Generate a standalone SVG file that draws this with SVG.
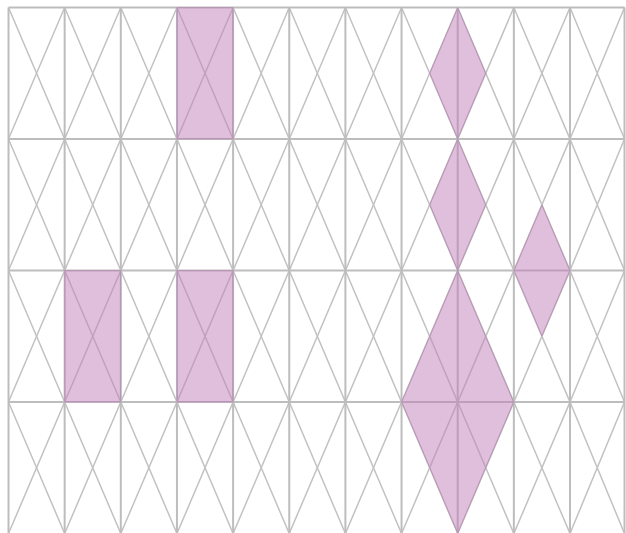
<svg xmlns="http://www.w3.org/2000/svg" width="626" height="533" viewBox="0 0 626 533">
  <style>
    .diag { fill: none; stroke: #c2c2c2; stroke-width: 1.5; }
    .grid { fill: none; stroke: #bdbdbd; stroke-width: 2; }
    .shade { fill: #c080b8; fill-opacity: 0.5; stroke: #b070a8; stroke-opacity: 0.35; stroke-width: 1; }
  </style>
  <defs>
    <clipPath id="gridClip">
      <rect x="8.5" y="7.5" width="561.5" height="526"/>
    </clipPath>
  </defs>
  <rect x="0" y="0" width="626" height="533" fill="#ffffff"/>
  <g id="diagonals">
    <g clip-path="url(#gridClip)">
      <path class="diag" d="M-159.95 7.5L64.65 533.5M-103.8 7.5L120.8 533.5M-47.65 7.5L176.95 533.5M8.5 7.5L233.1 533.5M64.65 7.5L289.25 533.5M120.8 7.5L345.4 533.5M176.95 7.5L401.55 533.5M233.1 7.5L457.7 533.5M289.25 7.5L513.85 533.5M345.4 7.5L570 533.5M401.55 7.5L626.15 533.5M457.7 7.5L682.3 533.5M513.85 7.5L738.45 533.5"/>
      <path class="diag" d="M64.65 7.5L-159.95 533.5M120.8 7.5L-103.8 533.5M176.95 7.5L-47.65 533.5M233.1 7.5L8.5 533.5M289.25 7.5L64.65 533.5M345.4 7.5L120.8 533.5M401.55 7.5L176.95 533.5M457.7 7.5L233.1 533.5M513.85 7.5L289.25 533.5M570 7.5L345.4 533.5M626.15 7.5L401.55 533.5M682.3 7.5L457.7 533.5M738.45 7.5L513.85 533.5"/>
    </g>
    <path class="diag" d="M570 7.5L624.5 139M624.5 7.5L570 139M570 139L624.5 270.5M624.5 139L570 270.5M570 270.5L624.5 402M624.5 270.5L570 402M570 402L624.5 533.5M624.5 402L570 533.5"/>
  </g>
  <g id="grid">
    <path class="grid" d="M8.5 7.5V533.5M64.65 7.5V533.5M120.8 7.5V533.5M176.95 7.5V533.5M233.1 7.5V533.5M289.25 7.5V533.5M345.4 7.5V533.5M401.55 7.5V533.5M457.7 7.5V533.5M513.85 7.5V533.5M570 7.5V533.5M624.5 7.5V533.5"/>
    <path class="grid" d="M8.5 7.5H624.5M8.5 139H624.5M8.5 270.5H624.5M8.5 402H624.5"/>
  </g>
  <g id="shaded">
    <rect id="rect-a" class="shade" x="176.95" y="7.5" width="56.15" height="131.5"/>
    <rect id="rect-b" class="shade" x="64.65" y="270.5" width="56.15" height="131.5"/>
    <rect id="rect-c" class="shade" x="176.95" y="270.5" width="56.15" height="131.5"/>
    <polygon id="diamond-a" class="shade" points="457.7,7.5 485.8,73.25 457.7,139 429.6,73.25"/>
    <polygon id="diamond-b" class="shade" points="457.7,139 485.8,204.75 457.7,270.5 429.6,204.75"/>
    <polygon id="diamond-c" class="shade" points="541.9,204.75 570,270.5 541.9,336.25 513.85,270.5"/>
    <polygon id="diamond-big" class="shade" points="457.7,270.5 513.85,402 457.7,533.5 401.55,402"/>
  </g>
</svg>
